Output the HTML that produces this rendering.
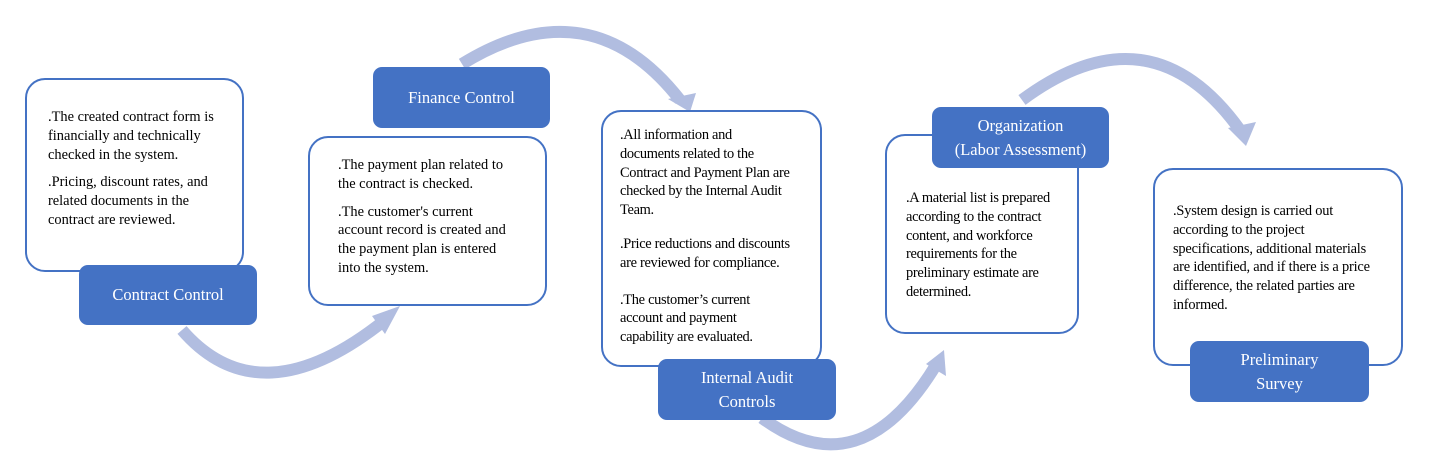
<!DOCTYPE html>
<html><head><meta charset="utf-8"><style>
body{margin:0;width:1433px;height:454px;background:#fff;position:relative;overflow:hidden;font-family:"Liberation Serif",serif}
.w{position:absolute;border:2px solid #4472c4;border-radius:20px;background:#fff;box-sizing:border-box}
.t{position:absolute;font-size:14.4px;line-height:18.8px;color:#000;white-space:nowrap}
.t p{margin:0 0 9px 0}
.b{position:absolute;background:#4472c4;border-radius:9px;color:#fff;font-size:16.5px;line-height:24px;display:flex;align-items:center;justify-content:center;text-align:center}
svg{position:absolute;left:0;top:0}
</style></head><body>
<svg width="1433" height="454">
<g fill="none" stroke="#b1bde0" stroke-width="12">
<path d="M182,330 Q260,420 385,320"/>
<path d="M462,64 Q590,-15 680,100"/>
<path d="M762,418 Q860,490 936,365"/>
<path d="M1022,100 Q1150,5 1240,130"/>
</g>
<g fill="#b1bde0">
<polygon points="372,316 400,306 385,334"/>
<polygon points="668,99 696,93 690,112"/>
<polygon points="926,364 944,350 946,376"/>
<polygon points="1228,128 1256,122 1246,146"/>
</g>
</svg>
<div class="w" style="left:25px;top:78px;width:219px;height:194px"></div>
<div class="t" style="left:48px;top:108px"><p>.The created contract form is<br>financially and technically<br>checked in the system.</p><p>.Pricing, discount rates, and<br>related documents in the<br>contract are reviewed.</p></div>
<div class="b" style="left:79px;top:265px;width:178px;height:60px">Contract Control</div>

<div class="w" style="left:308px;top:136px;width:239px;height:170px"></div>
<div class="t" style="left:338px;top:156px"><p>.The payment plan related to<br>the contract is checked.</p><p>.The customer's current<br>account record is created and<br>the payment plan is entered<br>into the system.</p></div>
<div class="b" style="left:373px;top:67px;width:177px;height:61px">Finance Control</div>

<div class="w" style="left:601px;top:110px;width:221px;height:257px"></div>
<div class="t" style="left:620px;top:126px;letter-spacing:-0.3px"><p style="margin-bottom:15px">.All information and<br>documents related to the<br>Contract and Payment Plan are<br>checked by the Internal Audit<br>Team.</p><p style="margin-bottom:18px">.Price reductions and discounts<br>are reviewed for compliance.</p><p>.The customer’s current<br>account and payment<br>capability are evaluated.</p></div>
<div class="b" style="left:658px;top:359px;width:178px;height:61px">Internal Audit<br>Controls</div>

<div class="w" style="left:885px;top:134px;width:194px;height:200px"></div>
<div class="t" style="left:906px;top:189px;letter-spacing:-0.3px"><p>.A material list is prepared<br>according to the contract<br>content, and workforce<br>requirements for the<br>preliminary estimate are<br>determined.</p></div>
<div class="b" style="left:932px;top:107px;width:177px;height:61px">Organization<br>(Labor Assessment)</div>

<div class="w" style="left:1153px;top:168px;width:250px;height:198px"></div>
<div class="t" style="left:1173px;top:202px;letter-spacing:-0.2px"><p>.System design is carried out<br>according to the project<br>specifications, additional materials<br>are identified, and if there is a price<br>difference, the related parties are<br>informed.</p></div>
<div class="b" style="left:1190px;top:341px;width:179px;height:61px">Preliminary<br>Survey</div>
</body></html>
